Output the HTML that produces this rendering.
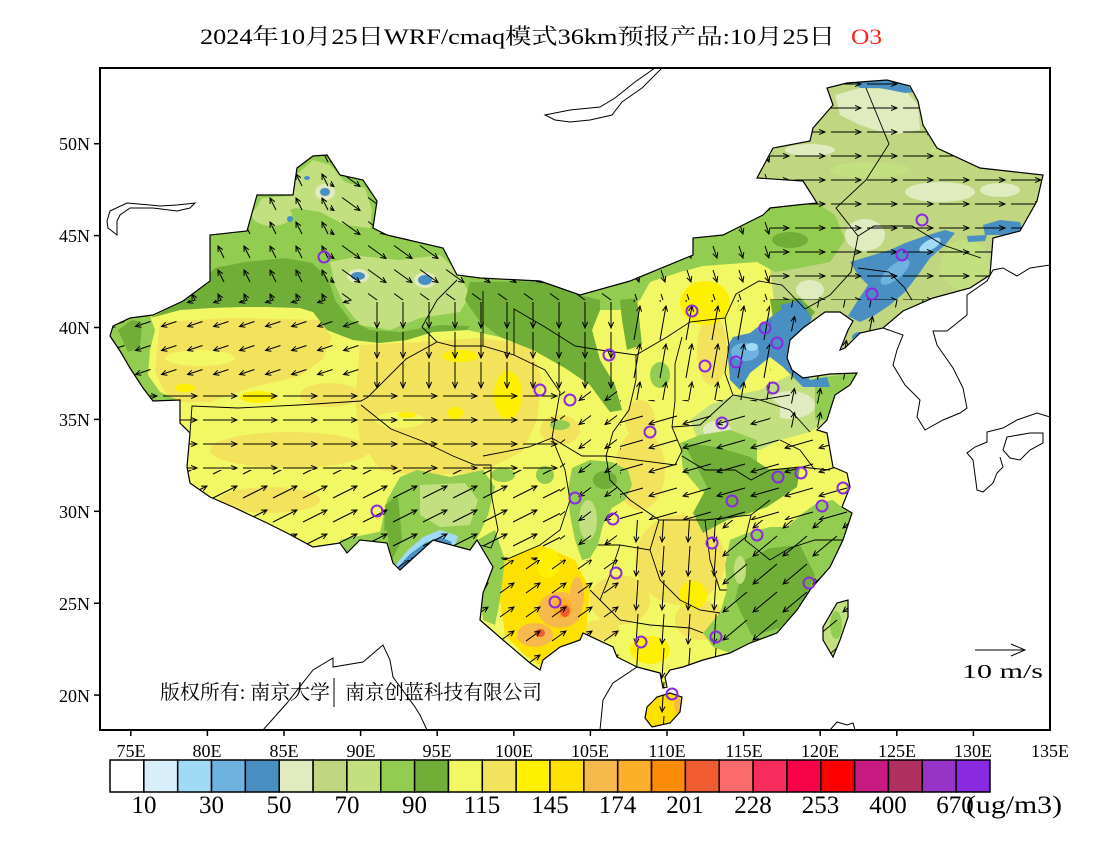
<!DOCTYPE html>
<html><head><meta charset="utf-8"><style>
html,body{margin:0;padding:0;background:#fff;}
svg{display:block;}
text{font-family:"Liberation Serif","Noto Serif CJK SC",serif;}
</style></head><body>
<svg width="1100" height="850" viewBox="0 0 1100 850" xmlns="http://www.w3.org/2000/svg">
<defs>
<clipPath id="frame"><rect x="100" y="68" width="950" height="662"/></clipPath>
<clipPath id="cn"><path id="cnp" d="M110,336 L113,326 L130,318 L153,315 L183,301 L210,281 L210,235 L247,231 L257,195 L293,195 L297,168 L313,156 L327,155 L340,175 L363,180 L377,201 L373,228 L387,235 L443,248 L457,275 L480,278 L540,281 L580,295 L630,281 L693,255 L693,238 L723,235 L743,225 L763,215 L770,208 L797,205 L817,203 L803,181 L757,178 L773,148 L810,141 L813,128 L833,105 L827,88 L847,83 L887,80 L910,86 L918,101 L923,125 L937,148 L980,168 L1043,175 L1037,201 L1020,231 L993,238 L990,275 L970,288 L933,298 L903,311 L883,328 L860,333 L845,348 L840,350 L848,330 L853,321 L840,312 L825,312 L803,328 L790,340 L787,358 L792,370 L803,378 L830,374 L857,373 L850,385 L835,395 L827,420 L817,430 L827,433 L833,467 L847,473 L850,487 L842,507 L852,513 L843,540 L830,567 L810,590 L797,610 L777,633 L750,643 L730,653 L703,660 L683,667 L670,670 L665,677 L667,687 L663,688 L660,673 L637,667 L617,657 L613,647 L583,633 L580,640 L560,647 L543,660 L540,670 L530,663 L503,640 L480,620 L483,593 L493,567 L477,540 L470,550 L433,540 L400,570 L393,563 L387,543 L360,540 L347,553 L340,543 L313,547 L287,533 L267,523 L233,507 L210,497 L190,483 L187,467 L190,433 L180,423 L180,400 L153,401 L143,388 L130,368 L120,351 Z M647,707 L657,697 L670,693 L682,697 L680,712 L670,723 L652,727 L645,718 Z M823,627 L837,603 L848,600 L848,617 L840,640 L833,657 L823,640 Z"/></clipPath>

<pattern id="p_nw" patternUnits="userSpaceOnUse" width="26" height="24"><path d="M16,18L10,6M14.8,9.7L10,6L10.1,12" fill="none" stroke="#000" stroke-width="1"/></pattern>
<pattern id="p_se" patternUnits="userSpaceOnUse" width="26" height="24"><path d="M4,5.5L22,18.5M16.1,17.5L22,18.5L19.1,13.2" fill="none" stroke="#000" stroke-width="1"/></pattern>
<pattern id="p_w" patternUnits="userSpaceOnUse" width="26" height="24"><path d="M20.5,9.5L5.5,14.5M9.8,10.3L5.5,14.5L11.4,15.3" fill="none" stroke="#000" stroke-width="1"/></pattern>
<pattern id="p_s" patternUnits="userSpaceOnUse" width="26" height="30"><path d="M13,2L13,28M10.4,22L13,28L15.6,22" fill="none" stroke="#000" stroke-width="1"/></pattern>
<pattern id="p_e" patternUnits="userSpaceOnUse" width="40" height="24"><path d="M3,12L37,12M31,9.4L37,12L31,14.6" fill="none" stroke="#000" stroke-width="1"/></pattern>
<pattern id="p_ene" patternUnits="userSpaceOnUse" width="30" height="24"><path d="M3,18L27,6M23.3,10.8L27,6L21,6.1" fill="none" stroke="#000" stroke-width="1"/></pattern>
<pattern id="p_sws" patternUnits="userSpaceOnUse" width="26" height="24"><path d="M19,7.5L7,16.5M9.8,11.2L7,16.5L12.9,15.3" fill="none" stroke="#000" stroke-width="1"/></pattern>
<pattern id="p_ne" patternUnits="userSpaceOnUse" width="26" height="24"><path d="M6,17L20,7M17.1,12.3L20,7L14.1,8" fill="none" stroke="#000" stroke-width="1"/></pattern>
<pattern id="p_e30" patternUnits="userSpaceOnUse" width="36" height="24"><path d="M3,12L33,12M27,9.4L33,12L27,14.6" fill="none" stroke="#000" stroke-width="1"/></pattern>
<pattern id="p_im" patternUnits="userSpaceOnUse" width="26" height="24"><path d="M11,6L15,18M10.8,13.7L15,18L15.8,12" fill="none" stroke="#000" stroke-width="1"/></pattern>
<pattern id="p_n" patternUnits="userSpaceOnUse" width="26" height="38"><path d="M10,36L16,2M17.6,7.8L16,2L12.5,6.9" fill="none" stroke="#000" stroke-width="1"/></pattern>
<pattern id="p_ns" patternUnits="userSpaceOnUse" width="26" height="24"><path d="M11.5,19.5L14.5,4.5M16,10.3L14.5,4.5L10.9,9.3" fill="none" stroke="#000" stroke-width="1"/></pattern>
<pattern id="p_wsw" patternUnits="userSpaceOnUse" width="34" height="24"><path d="M31,8L3,16M7.5,12L3,16L8.9,17" fill="none" stroke="#000" stroke-width="1"/></pattern>
<pattern id="p_sw" patternUnits="userSpaceOnUse" width="30" height="28"><path d="M27,4L3,24M5.5,18.5L3,24L8.8,22.6" fill="none" stroke="#000" stroke-width="1"/></pattern>
<pattern id="p_s30" patternUnits="userSpaceOnUse" width="26" height="34"><path d="M14,2L12,32M9.8,26.4L12,32L15,26.8" fill="none" stroke="#000" stroke-width="1"/></pattern>
</defs>

<rect width="1100" height="850" fill="#fff"/>

<text x="200" y="44" font-size="22" textLength="635" lengthAdjust="spacingAndGlyphs" fill="#000">2024年10月25日WRF/cmaq模式36km预报产品:10月25日</text>
<text x="851" y="44" font-size="22" textLength="31" lengthAdjust="spacingAndGlyphs" fill="#ff2020">O3</text>

<g clip-path="url(#frame)">
 <g clip-path="url(#cn)">
  <rect x="100" y="68" width="950" height="662" fill="#f2f864"/>
  <g fill="#f2e25c">
   <path d="M160,322 L230,318 L320,320 L332,338 L322,360 L300,376 L250,388 L210,402 L170,402 L155,372 Z"/>
   <path d="M360,345 L420,342 L480,338 L530,345 L542,380 L537,420 L522,452 L480,472 L420,476 L380,470 L360,440 L355,400 Z"/>
   <ellipse cx="290" cy="450" rx="80" ry="18"/>
   <ellipse cx="270" cy="500" rx="50" ry="13"/>
   <ellipse cx="330" cy="395" rx="30" ry="12"/>
   <ellipse cx="640" cy="470" rx="25" ry="40"/>
   <ellipse cx="680" cy="560" rx="45" ry="45"/>
   <ellipse cx="620" cy="600" rx="30" ry="25"/>
   <ellipse cx="712" cy="350" rx="15" ry="35"/>
   <ellipse cx="640" cy="420" rx="15" ry="20"/>
   <ellipse cx="700" cy="620" rx="25" ry="20"/>
   <ellipse cx="600" cy="630" rx="20" ry="10"/>
   <ellipse cx="560" cy="430" rx="20" ry="15"/>
  </g>
  <g fill="#f2f864">
   <ellipse cx="200" cy="358" rx="35" ry="8"/>
   <ellipse cx="400" cy="420" rx="25" ry="8"/>
  </g>
  <g fill="#fff000">
   <ellipse cx="705" cy="303" rx="25" ry="22"/>
   <ellipse cx="508" cy="395" rx="14" ry="24"/>
   <ellipse cx="693" cy="595" rx="14" ry="14"/>
   <ellipse cx="650" cy="650" rx="20" ry="14"/>
   <ellipse cx="460" cy="356" rx="18" ry="6"/>
   <ellipse cx="258" cy="397" rx="18" ry="6"/>
   <ellipse cx="185" cy="388" rx="10" ry="4"/>
   <ellipse cx="455" cy="413" rx="8" ry="6"/>
   <ellipse cx="407" cy="415" rx="9" ry="3"/>
  </g>
  <path fill="#92cc50" d="M183,301 L210,281 L210,235 L247,231 L257,195 L293,195 L297,168 L313,156 L327,155 L340,175 L363,180 L377,201 L373,228 L387,235 L443,248 L457,275 L480,278 L540,281 L580,295 L630,281 L640,300 L622,310 L600,310 L592,330 L600,360 L615,385 L622,410 L610,412 L590,385 L565,368 L533,350 L500,337 L467,330 L433,332 L407,340 L380,343 L353,340 L327,330 L313,312 L300,308 L267,307 L240,307 L210,308 L180,310 L150,318 Z"/>
  <path fill="#c2e080" d="M293,178 L313,160 L330,165 L345,182 L365,188 L372,210 L370,228 L345,225 L320,212 L295,208 L270,218 L255,210 L262,198 L290,196 Z"/>
  <path fill="#c2e080" d="M330,262 L360,256 L400,260 L440,255 L458,272 L470,295 L460,312 L420,318 L390,330 L360,325 L345,306 L335,285 Z"/>
  <ellipse cx="272" cy="215" rx="20" ry="11" fill="#c2e080"/>
  <path fill="#70ae38" d="M183,301 L200,283 L215,268 L245,262 L285,258 L312,263 L328,278 L335,300 L350,320 L370,330 L400,332 L440,325 L470,326 L467,330 L433,332 L407,340 L380,343 L353,340 L327,330 L313,312 L300,308 L267,307 L240,307 L210,308 L180,310 L150,318 Z"/>
  <path fill="#70ae38" d="M470,282 L540,281 L580,295 L600,300 L600,310 L592,330 L600,360 L615,385 L622,410 L610,412 L590,385 L565,368 L533,350 L500,337 L480,322 L465,300 Z"/>
  <path fill="#70ae38" d="M620,300 L637,298 L642,345 L627,350 L622,320 Z"/>
  <g fill="#e0ebc0"><ellipse cx="325" cy="192" rx="10" ry="8"/><ellipse cx="358" cy="276" rx="11" ry="7"/><ellipse cx="425" cy="280" rx="11" ry="8"/></g>
  <g fill="#4a8fc2"><ellipse cx="325" cy="192" rx="5" ry="4"/><ellipse cx="307" cy="178" rx="3" ry="2"/><ellipse cx="290" cy="219" rx="3" ry="3"/><ellipse cx="358" cy="276" rx="7" ry="4"/><ellipse cx="425" cy="280" rx="7" ry="5"/></g>
  <path fill="#92cc50" d="M110,336 L113,326 L130,318 L150,316 L155,330 L150,350 L148,375 L160,392 L178,400 L150,403 L143,388 L130,368 L120,351 Z"/>
  <path fill="#70ae38" d="M118,330 L132,320 L142,322 L140,348 L128,352 Z"/>

  <path fill="#c0d680" d="M803,181 L757,178 L773,148 L810,141 L813,128 L833,105 L827,88 L847,83 L887,80 L910,86 L918,101 L923,125 L937,148 L980,168 L1043,175 L1037,201 L1020,231 L993,238 L990,275 L970,288 L933,298 L903,311 L883,328 L860,333 L845,348 L840,350 L848,330 L853,321 L840,312 L825,312 L803,328 L790,330 L775,310 L770,268 L760,240 L790,205 L817,203 Z"/>
  <g fill="#e0ebc0">
   <path d="M835,95 L860,88 L905,90 L918,105 L920,130 L890,135 L860,125 L840,115 Z"/>
   <ellipse cx="940" cy="192" rx="35" ry="10"/>
   <ellipse cx="865" cy="235" rx="20" ry="16"/>
   <ellipse cx="810" cy="150" rx="25" ry="6"/>
   <ellipse cx="1000" cy="190" rx="20" ry="7"/>
   <ellipse cx="810" cy="290" rx="14" ry="10"/>
  </g>
  <g fill="#c2e080">
   <ellipse cx="965" cy="265" rx="25" ry="25"/>
   <ellipse cx="870" cy="170" rx="40" ry="8"/>
   <ellipse cx="960" cy="150" rx="30" ry="6"/>
  </g>
  <path fill="#92cc50" d="M630,281 L693,255 L693,238 L723,235 L743,225 L763,215 L770,208 L797,205 L817,203 L835,215 L845,240 L830,262 L800,268 L775,272 L757,262 L730,264 L703,266 L680,272 L650,282 L640,300 Z"/>
  <ellipse cx="790" cy="240" rx="18" ry="8" fill="#70ae38"/>
  <path fill="#4a8fc2" d="M850,262 L870,256 L890,250 L905,243 L925,236 L945,230 L955,233 L945,245 L930,258 L918,275 L905,292 L890,305 L875,315 L860,322 L848,316 L858,300 L868,285 L858,275 Z"/>
  <ellipse cx="895" cy="272" rx="18" ry="7" transform="rotate(-40 895 272)" fill="#6eb2df"/>
  <ellipse cx="930" cy="245" rx="12" ry="5" transform="rotate(-30 930 245)" fill="#a0daf5"/>
  <path fill="#4a8fc2" d="M850,80 L880,79 L905,84 L915,92 L905,93 L880,88 L860,88 Z"/>
  <path fill="#4a8fc2" d="M983,225 L1000,220 L1020,222 L1023,230 L1005,235 L985,235 Z"/>
  <path fill="#4a8fc2" d="M967,236 L987,235 L985,241 L968,242 Z"/>
  <path fill="#c2e080" d="M760,390 L790,375 L830,374 L857,373 L850,385 L835,395 L827,420 L810,432 L780,440 L750,440 L740,420 L745,400 Z"/>
  <path fill="#92cc50" d="M815,378 L857,373 L850,385 L835,395 L827,420 L815,420 Z"/>
  <ellipse cx="790" cy="405" rx="25" ry="14" fill="#e0ebc0"/>
  <path fill="#c2e080" d="M690,420 L710,405 L735,395 L760,390 L780,405 L780,440 L760,450 L730,447 L700,445 Z"/>
  <ellipse cx="717" cy="430" rx="14" ry="9" fill="#e0ebc0"/>
  <path fill="#70ae38" d="M770,300 L800,298 L815,312 L803,328 L790,340 L775,330 Z"/>
  <path fill="#4a8fc2" d="M727,347 L733,337 L750,333 L763,323 L780,310 L790,307 L787,330 L797,357 L810,380 L827,377 L830,387 L803,387 L783,367 L770,357 L750,373 L740,390 L730,380 Z"/>
  <path fill="#4a8fc2" d="M780,305 L800,300 L812,318 L805,332 L792,345 L786,328 Z"/>
  <ellipse cx="745" cy="352" rx="14" ry="9" fill="#6eb2df"/>
  <ellipse cx="752" cy="347" rx="6" ry="4" fill="#a0daf5"/>
  <ellipse cx="860" cy="337" rx="8" ry="5" fill="#4a8fc2"/>
  <path fill="#92cc50" d="M680,443 L700,435 L730,430 L757,440 L757,470 L740,490 L720,500 L700,490 L683,470 Z"/>
  <path fill="#70ae38" d="M683,443 L717,447 L750,457 L770,470 L800,467 L797,487 L767,507 L750,513 L727,520 L703,533 L693,513 L707,487 L697,467 Z"/>
  <ellipse cx="660" cy="375" rx="10" ry="13" fill="#92cc50"/>
  <ellipse cx="560" cy="425" rx="10" ry="5" fill="#92cc50"/>
  <path fill="#92cc50" d="M730,540 L747,533 L770,527 L787,527 L803,513 L817,503 L833,500 L845,510 L852,513 L843,540 L830,567 L810,590 L797,610 L777,633 L750,643 L730,653 L713,647 L703,633 L720,613 L727,590 L725,565 Z"/>
  <path fill="#70ae38" d="M745,560 L770,548 L800,545 L815,575 L800,610 L780,628 L752,636 L735,600 Z"/>
  <ellipse cx="740" cy="570" rx="6" ry="14" fill="#c2e080"/>
  <path fill="#92cc50" d="M572,468 L590,460 L612,462 L628,470 L632,485 L625,500 L612,508 L603,525 L598,545 L590,558 L582,560 L575,540 L570,515 L568,490 Z"/>
  <ellipse cx="588" cy="520" rx="9" ry="20" fill="#c2e080"/>
  <ellipse cx="605" cy="480" rx="12" ry="9" fill="#70ae38"/>
  <ellipse cx="545" cy="475" rx="9" ry="9" fill="#92cc50"/>
  <ellipse cx="503" cy="475" rx="12" ry="7" fill="#92cc50"/>
  <path fill="#92cc50" d="M380,533 L387,500 L400,477 L417,470 L450,477 L483,470 L495,487 L488,515 L480,533 L470,550 L433,540 L400,570 L393,563 L387,543 Z"/>
  <path fill="#c2e080" d="M420,485 L465,483 L478,500 L470,525 L440,527 L420,515 Z"/>
  <path fill="#70ae38" d="M385,505 L398,495 L402,540 L392,560 L384,540 Z"/>
  <path fill="#a0daf5" d="M394,567 L408,550 L423,537 L440,530 L458,536 L455,546 L438,540 L424,548 L410,562 L400,572 Z"/>
  <path fill="#4a8fc2" d="M398,567 L410,554 L425,543 L440,537 L452,542 L450,546 L438,543 L426,551 L412,563 L402,571 Z"/>
  <path fill="#92cc50" d="M340,540 L387,530 L390,550 L360,545 L347,553 Z"/>
  <path fill="#92cc50" d="M477,540 L495,530 L505,560 L500,600 L495,625 L483,620 L480,593 L490,567 Z"/>
  <path fill="#ffe000" d="M505,560 L540,545 L575,560 L590,590 L585,640 L560,650 L540,665 L525,655 L505,635 L500,600 Z"/>
  <ellipse cx="548" cy="563" rx="12" ry="15" fill="#fff000"/>
  <ellipse cx="560" cy="610" rx="22" ry="18" fill="#f7b84c"/>
  <ellipse cx="535" cy="635" rx="18" ry="12" fill="#f7b84c"/>
  <ellipse cx="563" cy="608" rx="10" ry="10" fill="#fcb02a"/>
  <ellipse cx="565" cy="611" rx="5" ry="6" fill="#f05c30"/>
  <ellipse cx="540" cy="633" rx="5" ry="4" fill="#f05c30"/>
  <ellipse cx="577" cy="595" rx="7" ry="18" fill="#f7b84c"/>
  <path fill="#ffe000" d="M647,707 L657,697 L670,693 L682,697 L680,712 L670,723 L652,727 L645,718 Z"/>
  <ellipse cx="678" cy="705" rx="4" ry="8" fill="#f7b84c"/>
  <path fill="#c2e080" d="M823,627 L837,603 L848,600 L848,617 L840,640 L833,657 L823,640 Z"/>
  <ellipse cx="836" cy="625" rx="6" ry="14" fill="#92cc50"/>

  <g fill="none" stroke="#000" stroke-width="0.9">
   <path d="M190,433 L192,406 L238,408 L299,405 L361,401 L368,397 L406,359 L437,342 L453,346 L483,346 L514,355 L545,370 L560,392 L552,438"/>
   <path d="M437,342 L422,327 L437,300 L457,280"/>
   <path d="M361,405 L391,429 L422,441 L453,456 L475,465 L491,465 L491,493 L498,530 L491,548 L480,545"/>
   <path d="M483,456 L529,447 L552,438 L582,456 L606,456 L613,432 L629,410 L636,380 L636,355"/>
   <path d="M483,346 L483,291 M514,355 L514,309 L545,327 L575,346 L600,350 L636,355 L667,337 L690,322 L725,318 L736,294 L759,281 L782,285 L805,309"/>
   <path d="M805,309 L830,295 L851,272 L858,236 L836,208 L866,180 L889,144 L866,88"/>
   <path d="M858,236 L874,226 L912,226 L943,245 L981,258"/>
   <path d="M858,268 L889,272 L904,287 L912,300"/>
   <path d="M725,318 L729,346 L725,373 L733,395 L760,400 L790,395"/>
   <path d="M682,337 L675,364 L675,401 L672,427 L682,451 L675,465 L606,456"/>
   <path d="M672,427 L700,425 L733,395"/>
   <path d="M682,456 L705,470 L735,470 L751,480 L770,470 L800,467 L830,470"/>
   <path d="M606,456 L610,480 L630,500 L659,520 L705,520 L751,515 L770,500"/>
   <path d="M552,438 L565,470 L570,500 L560,530 L540,545 L505,560"/>
   <path d="M598,545 L620,545 L650,550 L659,520 M620,545 L610,575 L600,600 L590,590 M650,550 L660,580 L680,600 L700,610 L720,613"/>
   <path d="M705,520 L710,560 L720,590 L727,590 M751,515 L745,540 L770,560 L790,548 L815,540 L843,540"/>
   <path d="M600,600 L620,620 L650,625 L690,628 L703,633"/>
   <path d="M760,400 L790,410 L810,432 M780,440 L800,450 L815,470"/>
  </g>

  <path fill="url(#p_nw)" d="M100,68 H330 V300 H100 Z"/>
  <path fill="url(#p_se)" d="M330,68 H620 V300 H330 Z"/>
  <path fill="url(#p_w)" d="M100,300 H360 V390 H100 Z"/>
  <path fill="url(#p_s)" d="M360,300 H620 V390 H360 Z"/>
  <path fill="url(#p_e)" d="M100,390 H560 V470 H100 Z"/>
  <path fill="url(#p_sws)" d="M560,390 H620 V560 H560 Z"/>
  <path fill="url(#p_ene)" d="M100,470 H560 V560 H100 Z"/>
  <path fill="url(#p_ne)" d="M100,560 H620 V730 H100 Z"/>
  <path fill="url(#p_e30)" d="M770,68 H1050 V300 H770 Z"/>
  <path fill="url(#p_im)" d="M620,68 H770 V300 H620 Z"/>
  <path fill="url(#p_n)" d="M620,300 H770 V400 H620 Z"/>
  <path fill="url(#p_ns)" d="M770,300 H1050 V430 H770 Z"/>
  <path fill="url(#p_wsw)" d="M620,400 H770 V430 H1050 V520 H620 Z"/>
  <path fill="url(#p_sw)" d="M720,520 H1050 V730 H720 Z"/>
  <path fill="url(#p_s30)" d="M620,520 H720 V730 H620 Z"/>
 </g>

 <use href="#cnp" fill="none" stroke="#000" stroke-width="1.2"/>

 <g fill="none" stroke="#000" stroke-width="1">
  <path d="M108,228 L107,221 L110,211 L127,203 L150,205 L160,206 L177,205 L195,203 L190,208 L177,211 L153,208 L130,208 L120,215 L117,221 L117,235 Z"/>
  <path d="M545,115 L570,110 L600,107 L615,98 L635,82 L655,68 L662,68 L642,88 L622,102 L612,115 L590,120 L570,122 L555,120 Z"/>
  <path d="M1050,265 L1030,268 L1017,276 L1003,268 L993,270 L987,281 L967,295 L967,315 L947,331 L933,331 L937,345 L953,368 L963,388 L967,408 L960,413 L943,420 L925,430 L917,417 L920,400 L905,385 L893,365 L897,350 L903,335 L883,328"/>
  <path d="M1050,417 L1037,413 L1017,420 L1003,428 L987,432 L987,442 L975,447 L967,453 L973,460 L977,490 L983,492 L993,483 L997,473 L1003,467 L1000,457"/>
  <path d="M1007,437 L1030,433 L1043,433 L1043,443 L1030,450 L1020,460 L1010,458 L1003,450 Z"/>
  <path d="M600,730 L603,700 L613,683 L637,667"/>
  <path d="M263,730 L287,703 L313,670 L333,658 L333,667 L363,662 L383,645 L390,660 L393,677 L415,707 L420,715 L427,730"/>
  <path d="M830,730 L837,722 L847,725 L853,723 L855,730"/>
 </g>

 <g fill="none" stroke="#8a2ae0" stroke-width="2">
  <circle cx="324" cy="257" r="5.5"/><circle cx="540" cy="390" r="5.5"/><circle cx="570" cy="400" r="5.5"/>
  <circle cx="609" cy="355" r="5.5"/><circle cx="692" cy="311" r="5.5"/><circle cx="765" cy="328" r="5.5"/>
  <circle cx="777" cy="343" r="5.5"/><circle cx="736" cy="362" r="5.5"/><circle cx="705" cy="366" r="5.5"/>
  <circle cx="773" cy="388" r="5.5"/><circle cx="650" cy="432" r="5.5"/><circle cx="722" cy="423" r="5.5"/>
  <circle cx="575" cy="498" r="5.5"/><circle cx="613" cy="519" r="5.5"/><circle cx="778" cy="477" r="5.5"/>
  <circle cx="801" cy="473" r="5.5"/><circle cx="843" cy="488" r="5.5"/><circle cx="822" cy="506" r="5.5"/>
  <circle cx="732" cy="501" r="5.5"/><circle cx="757" cy="535" r="5.5"/><circle cx="712" cy="543" r="5.5"/>
  <circle cx="616" cy="573" r="5.5"/><circle cx="809" cy="583" r="5.5"/><circle cx="716" cy="637" r="5.5"/>
  <circle cx="641" cy="642" r="5.5"/><circle cx="672" cy="694" r="5.5"/><circle cx="377" cy="511" r="5.5"/>
  <circle cx="555" cy="602" r="5.5"/><circle cx="922" cy="220" r="5.5"/><circle cx="902" cy="255" r="5.5"/>
  <circle cx="872" cy="294" r="5.5"/>
 </g>

 <path d="M975,650 L1025,650 M1011,644 L1025,650 L1011,656" fill="none" stroke="#000" stroke-width="1"/>
 <text x="962" y="678" font-size="20" textLength="81" lengthAdjust="spacingAndGlyphs">10 m/s</text>

 <text x="160" y="699" font-size="20" textLength="170" lengthAdjust="spacingAndGlyphs">版权所有: 南京大学</text>
 <line x1="334" y1="678" x2="334" y2="707" stroke="#000" stroke-width="1"/>
 <text x="345" y="699" font-size="20" textLength="197" lengthAdjust="spacingAndGlyphs">南京创蓝科技有限公司</text>
</g>

<rect x="100" y="68" width="950" height="662" fill="none" stroke="#000" stroke-width="2"/>

<g stroke="#000" stroke-width="1.5">
 <line x1="94" y1="143.7" x2="100" y2="143.7"/><line x1="94" y1="235.6" x2="100" y2="235.6"/>
 <line x1="94" y1="327.5" x2="100" y2="327.5"/><line x1="94" y1="419.4" x2="100" y2="419.4"/>
 <line x1="94" y1="511.3" x2="100" y2="511.3"/><line x1="94" y1="603.2" x2="100" y2="603.2"/>
 <line x1="94" y1="695.1" x2="100" y2="695.1"/>
</g>
<g font-size="18" text-anchor="end">
 <text x="90" y="150">50N</text><text x="90" y="242">45N</text><text x="90" y="334">40N</text>
 <text x="90" y="426">35N</text><text x="90" y="518">30N</text><text x="90" y="610">25N</text>
 <text x="90" y="702">20N</text>
</g>
<g stroke="#000" stroke-width="1.5">
 <line x1="130.8" y1="730" x2="130.8" y2="736"/><line x1="207.4" y1="730" x2="207.4" y2="736"/>
 <line x1="284" y1="730" x2="284" y2="736"/><line x1="360.6" y1="730" x2="360.6" y2="736"/>
 <line x1="437.2" y1="730" x2="437.2" y2="736"/><line x1="513.8" y1="730" x2="513.8" y2="736"/>
 <line x1="590.4" y1="730" x2="590.4" y2="736"/><line x1="667" y1="730" x2="667" y2="736"/>
 <line x1="743.6" y1="730" x2="743.6" y2="736"/><line x1="820.2" y1="730" x2="820.2" y2="736"/>
 <line x1="896.8" y1="730" x2="896.8" y2="736"/><line x1="973.4" y1="730" x2="973.4" y2="736"/>
</g>
<g font-size="18" text-anchor="middle">
 <text x="131" y="757">75E</text><text x="207" y="757">80E</text><text x="284" y="757">85E</text>
 <text x="361" y="757">90E</text><text x="437" y="757">95E</text><text x="514" y="757">100E</text>
 <text x="590" y="757">105E</text><text x="667" y="757">110E</text><text x="744" y="757">115E</text>
 <text x="820" y="757">120E</text><text x="897" y="757">125E</text><text x="973" y="757">130E</text>
 <text x="1050" y="757">135E</text>
</g>

<g stroke="#000" stroke-width="1.5">
 <rect x="110" y="760" width="33.85" height="32" fill="#ffffff"/>
 <rect x="143.85" y="760" width="33.85" height="32" fill="#d8eefa"/>
 <rect x="177.69" y="760" width="33.85" height="32" fill="#a0daf5"/>
 <rect x="211.54" y="760" width="33.85" height="32" fill="#6eb2df"/>
 <rect x="245.38" y="760" width="33.85" height="32" fill="#4a8fc2"/>
 <rect x="279.23" y="760" width="33.85" height="32" fill="#e0ebc0"/>
 <rect x="313.08" y="760" width="33.85" height="32" fill="#c0d680"/>
 <rect x="346.92" y="760" width="33.85" height="32" fill="#c2e080"/>
 <rect x="380.77" y="760" width="33.85" height="32" fill="#92cc50"/>
 <rect x="414.62" y="760" width="33.85" height="32" fill="#70ae38"/>
 <rect x="448.46" y="760" width="33.85" height="32" fill="#f2f864"/>
 <rect x="482.31" y="760" width="33.85" height="32" fill="#f2e25c"/>
 <rect x="516.15" y="760" width="33.85" height="32" fill="#fff000"/>
 <rect x="550" y="760" width="33.85" height="32" fill="#ffe000"/>
 <rect x="583.85" y="760" width="33.85" height="32" fill="#f7b84c"/>
 <rect x="617.69" y="760" width="33.85" height="32" fill="#fcb02a"/>
 <rect x="651.54" y="760" width="33.85" height="32" fill="#fc8c08"/>
 <rect x="685.38" y="760" width="33.85" height="32" fill="#f05c30"/>
 <rect x="719.23" y="760" width="33.85" height="32" fill="#ff6a6a"/>
 <rect x="753.08" y="760" width="33.85" height="32" fill="#f52c5c"/>
 <rect x="786.92" y="760" width="33.85" height="32" fill="#f80248"/>
 <rect x="820.77" y="760" width="33.85" height="32" fill="#ff0000"/>
 <rect x="854.62" y="760" width="33.85" height="32" fill="#c81a80"/>
 <rect x="888.46" y="760" width="33.85" height="32" fill="#b03060"/>
 <rect x="922.31" y="760" width="33.85" height="32" fill="#9634c8"/>
 <rect x="956.15" y="760" width="33.85" height="32" fill="#8a2ae0"/>
</g>
<g font-size="25" text-anchor="middle">
 <text x="144" y="813">10</text><text x="211.5" y="813">30</text><text x="279" y="813">50</text>
 <text x="347" y="813">70</text><text x="414.5" y="813">90</text><text x="482" y="813">115</text>
 <text x="550" y="813">145</text><text x="617.5" y="813">174</text><text x="685" y="813">201</text>
 <text x="753" y="813">228</text><text x="820.5" y="813">253</text><text x="888" y="813">400</text>
 <text x="955" y="813">670</text>
</g>
<text x="966" y="813" font-size="25" textLength="96" lengthAdjust="spacingAndGlyphs">(ug/m3)</text>
</svg>
</body></html>
